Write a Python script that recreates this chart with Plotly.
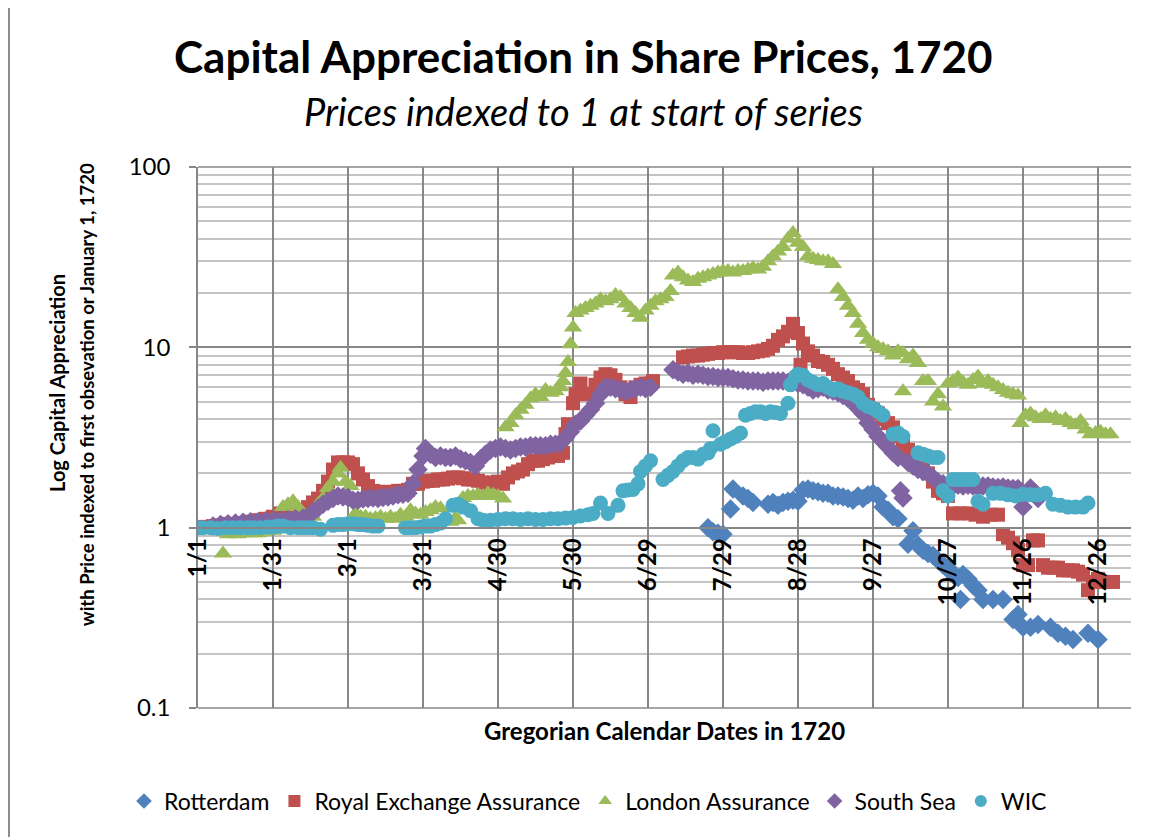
import pandas as pd
import plotly.graph_objects as go

# Dias desde el 1/1/1720 y valores indexados
rotterdam_dias = [204, 206, 208, 210, 213, 214, 218, 220, 222, 228, 230, 232, 234, 236, 238, 240,
                  242, 244, 246, 248, 250, 252, 254, 256, 258, 260, 262, 264, 266, 268, 270, 272,
                  274, 276, 278, 280, 284, 286, 288, 290, 292, 294, 296, 298, 300, 302, 304, 305,
                  306, 308, 310, 312, 314, 318, 322, 326, 328, 330, 333, 336, 341, 344, 347, 350,
                  356, 360]
rotterdam_val = [1.0, 0.95, 0.93, 0.92, 1.27, 1.64, 1.5, 1.45, 1.38, 1.35, 1.38, 1.33, 1.38, 1.4, 1.42, 1.4,
                 1.62, 1.64, 1.6, 1.58, 1.55, 1.55, 1.5, 1.5, 1.48, 1.45, 1.42, 1.5, 1.45, 1.52, 1.55, 1.5,
                 1.3, 1.25, 1.15, 1.12, 0.81, 0.96, 0.8, 0.75, 0.72, 0.7, 0.66, 0.62, 0.6, 0.55, 0.53, 0.4,
                 0.55, 0.52, 0.48, 0.45, 0.4, 0.4, 0.4, 0.31, 0.33, 0.28, 0.28, 0.29, 0.28, 0.26, 0.25, 0.24,
                 0.26, 0.24]

rea_dias = [0, 3, 6, 9, 12, 15, 18, 21, 24, 27, 30, 33, 36, 39, 42, 44, 46, 48, 50, 52, 54, 56, 58, 60,
            62, 64, 66, 68, 70, 72, 74, 76, 78, 80, 82, 84, 86, 88, 90, 92, 94, 96, 98, 100, 102, 104,
            106, 108, 110, 112, 114, 116, 118, 120, 122, 124, 126, 128, 130, 132, 134, 136, 138, 140,
            142, 144, 146, 147, 148, 150, 151, 153, 155, 157, 159, 161, 163, 165, 167, 169, 171, 173,
            175, 177, 179, 181, 182,
            194, 196, 198, 200, 202, 204, 206, 208, 210, 212, 214, 216, 218, 220, 222, 224, 226, 228,
            230, 232, 234, 236, 238, 240, 241, 242, 244, 246, 248, 250, 252, 254, 256, 258, 260, 262,
            264, 266, 268, 270, 272, 274, 276, 278, 280, 282, 284, 286, 288, 290, 292, 294, 296, 298,
            300, 302, 305, 308, 311, 314, 317, 320, 322, 324, 326, 328, 330, 332, 334, 336, 338, 340,
            342, 344, 346, 348, 350, 352, 354, 356, 358, 360, 362, 364, 366]
rea_val = [1.0, 1.01, 1.02, 1.03, 1.05, 1.05, 1.06, 1.08, 1.1, 1.12, 1.15, 1.2, 1.2, 1.18, 1.2, 1.3, 1.38,
           1.45, 1.6, 1.8, 2.1, 2.3, 2.3, 2.3, 2.25, 2.0, 1.85, 1.7, 1.6, 1.58, 1.58, 1.55, 1.58, 1.6, 1.6,
           1.62, 1.75, 1.75, 1.8, 1.82, 1.82, 1.85, 1.85, 1.87, 1.9, 1.9, 1.88, 1.85, 1.85, 1.82, 1.78,
           1.75, 1.78, 1.8, 1.75, 1.9, 2.0, 2.05, 2.1, 2.25, 2.35, 2.35, 2.4, 2.45, 2.5, 2.5, 2.6, 3.3,
           3.75, 4.9, 5.5, 6.3, 5.5, 5.5, 6.2, 6.8, 7.1, 7.0, 6.6, 6.0, 5.5, 5.3, 6.0, 6.2, 6.3, 6.3, 6.5,
           8.8, 8.9, 9.0, 9.0, 9.1, 9.2, 9.3, 9.3, 9.4, 9.4, 9.4, 9.4, 9.3, 9.3, 9.4, 9.5, 9.6, 9.8,
           10.2, 11.0, 11.5, 12.2, 13.5, 12.0, 8.0, 10.5, 9.5, 9.0, 8.4, 8.3, 8.0, 7.6, 7.1, 6.8, 6.5, 6.0,
           5.8, 5.5, 4.8, 4.5, 4.3, 4.0, 3.8, 3.6, 3.2, 2.9, 2.7, 2.5, 2.4, 2.2, 2.0, 1.8, 1.6, 1.55,
           1.5, 1.2, 1.2, 1.2, 1.18, 1.15, 1.18, 1.18, 0.92, 0.88, 0.82, 0.75, 0.62, 0.62, 0.85, 0.85, 0.62, 0.6,
           0.6, 0.6, 0.58, 0.58, 0.58, 0.57, 0.55, 0.45, 0.5, 0.52, 0.5, 0.5, 0.5]

london_dias = [10, 12, 14, 16, 18, 20, 22, 24, 26, 28, 30, 32, 34, 36, 38, 40, 42, 44, 46, 48, 50, 52,
               54, 56, 57, 59, 61, 63, 65, 67, 69, 71, 73, 75, 77, 79, 81, 83, 85, 87, 89, 91, 93, 95,
               97, 99, 101, 103, 104, 106, 108, 110, 112, 114, 116, 118, 120, 122, 123, 125, 127, 129,
               131, 133, 135, 137, 139, 141, 143, 145, 146, 147, 148, 149, 150, 151, 153, 155, 157, 159,
               161, 163, 165, 167, 169, 171, 173, 175, 177, 179, 181, 183, 185, 187, 189, 190, 192, 194,
               196, 198, 200, 202, 204, 206, 208, 210, 212, 214, 216, 218, 220, 222, 224, 226, 228, 230,
               232, 234, 236, 238, 240, 242, 244, 246, 248, 250, 252, 254, 256, 258, 260, 262, 264, 266,
               268, 270, 272, 274, 276, 278, 280, 282, 282, 284, 286, 288, 290, 292, 294, 296, 298, 300,
               302, 304, 306, 308, 310, 312, 314, 316, 318, 320, 322, 324, 326, 328, 329, 331, 333, 335,
               337, 339, 341, 343, 345, 347, 349, 351, 353, 355, 357, 359, 361, 363, 365]
london_val = [0.72, 0.92, 0.93, 0.92, 0.93, 0.94, 0.93, 0.93, 0.95, 0.96, 0.96, 0.98, 1.3, 1.35, 1.4, 1.3,
              1.2, 1.1, 1.15, 1.35, 1.45, 1.66, 1.8, 2.0, 2.15, 1.8, 1.7, 1.2, 1.15, 1.15, 1.12, 1.13,
              1.15, 1.12, 1.15, 1.12, 1.18, 1.15, 1.25, 1.2, 1.18, 1.22, 1.25, 1.3, 1.28, 1.1, 1.08, 1.13,
              1.1, 1.46, 1.5, 1.5, 1.52, 1.5, 1.55, 1.52, 1.5, 1.45, 3.6, 3.8, 4.2, 4.5, 4.8, 5.2, 5.5,
              5.3, 5.8, 5.6, 5.7, 6.0, 6.5, 7.2, 8.3, 10.4, 12.9, 15.5, 16.0, 16.5, 17.0, 17.5, 18.5,
              18.0, 18.5, 19.5, 19.0, 17.5, 16.5, 15.5, 14.6, 16.0, 17.0, 18.0, 18.5, 19.0, 20.5, 25.0,
              26.0, 24.5, 23.5, 23.0, 24.0, 24.5, 25.0, 25.5, 26.0, 26.5, 26.5, 26.0, 26.5, 26.5, 27.0,
              27.5, 27.0, 28.0, 30.0, 32.0, 34.0, 36.0, 40.0, 43.0, 38.0, 36.0, 32.0, 31.0, 30.5, 30.0,
              30.0, 29.0, 21.0, 19.0, 17.0, 15.5, 13.5, 12.0, 11.0, 10.5, 10.0, 9.8, 9.5, 9.0, 9.5, 9.3,
              5.7, 8.6, 9.0, 8.2, 6.5, 6.5, 5.0, 5.5, 4.7, 6.3, 6.5, 6.8, 6.4, 6.2, 6.6, 6.9, 6.3, 6.5,
              6.2, 6.0, 5.8, 5.6, 5.5, 5.4, 3.8, 4.2, 4.3, 4.1, 4.0, 4.2, 4.0, 4.1, 3.9, 4.0, 3.8, 3.7,
              3.9, 3.5, 3.3, 3.35, 3.4, 3.3, 3.3]

southsea_dias = [6, 9, 12, 15, 18, 21, 24, 27, 30, 33, 36, 39, 42, 44, 46, 48, 50, 52, 54, 56, 58, 60,
                 62, 64, 66, 68, 70, 72, 74, 76, 78, 80, 82, 84, 86, 88, 90, 91, 93, 95, 97, 99, 101,
                 103, 105, 107, 109, 111, 113, 115, 117, 119, 121, 123, 125, 127, 129, 131, 133, 135,
                 137, 139, 141, 143, 145, 147, 149, 151, 153, 155, 157, 159, 161, 163, 165, 167, 169,
                 171, 173, 175, 177, 179, 181,
                 190, 192, 194, 196, 198, 200, 202, 204, 206, 208, 210, 212, 214, 216, 218, 220, 222,
                 224, 226, 228, 230, 232, 234, 236, 238, 240, 242, 244, 246, 248, 250, 252, 254, 256,
                 258, 260, 262, 264, 266, 268, 270, 272, 274, 276, 278, 280, 281, 282, 284, 286, 288,
                 290, 292, 294, 296, 298, 300, 302, 304, 306, 308, 310, 312, 314, 316, 318, 320, 322,
                 324, 326, 328, 330, 333, 335, 336]
southsea_val = [1.02, 1.04, 1.05, 1.06, 1.07, 1.08, 1.08, 1.09, 1.1, 1.1, 1.11, 1.12, 1.13, 1.16, 1.22,
                1.28, 1.35, 1.4, 1.45, 1.5, 1.48, 1.47, 1.42, 1.42, 1.44, 1.45, 1.46, 1.45, 1.47, 1.48,
                1.5, 1.52, 1.53, 1.55, 1.75, 2.1, 2.5, 2.75, 2.55, 2.45, 2.5, 2.45, 2.45, 2.5, 2.4, 2.35,
                2.3, 2.2, 2.4, 2.55, 2.7, 2.75, 2.8, 2.75, 2.7, 2.75, 2.8, 2.8, 2.85, 2.85, 2.85, 2.85,
                2.9, 2.9, 2.95, 3.15, 3.4, 3.75, 3.9, 4.2, 4.5, 4.9, 5.5, 6.0, 6.0, 5.9, 5.8, 5.7, 5.8,
                5.9, 6.0, 5.9, 6.0,
                7.5, 7.3, 7.1, 7.2, 7.0, 7.1, 7.0, 6.9, 6.9, 6.8, 6.8, 6.8, 6.7, 6.6, 6.6, 6.5, 6.5,
                6.5, 6.4, 6.5, 6.5, 6.5, 6.5, 6.4, 6.4, 6.3, 6.2, 6.0, 5.8, 5.9, 6.0, 5.8, 5.7, 5.6,
                5.4, 5.2, 5.0, 4.6, 4.3, 3.8, 3.5, 3.2, 3.0, 2.8, 2.6, 2.45, 1.6, 1.46, 2.3, 2.2, 2.1,
                2.05, 2.0, 1.9, 1.8, 1.75, 1.72, 1.7, 1.72, 1.7, 1.72, 1.7, 1.68, 1.7, 1.7, 1.68, 1.67,
                1.68, 1.66, 1.65, 1.65, 1.3, 1.66, 1.55, 1.45]

wic_dias = [0, 2, 5, 8, 11, 14, 17, 20, 22, 25, 28, 30, 32, 34, 37, 40, 42, 44, 46, 49,
            54, 56, 58, 60, 62, 64, 66, 68, 70, 72,
            83, 85, 87, 89, 91, 93, 95, 97, 99, 102, 104, 106, 109, 112, 114, 117, 120, 123, 126,
            129, 132, 135, 138, 141, 144, 147, 150, 153, 156, 158, 161, 164, 168, 170, 172, 174,
            176, 177, 179, 181, 186, 188, 190, 192, 194, 196, 198, 200, 202, 204, 205, 206, 209,
            211, 213, 215, 217, 219, 221, 223, 225, 227, 229, 231, 233, 236, 237, 239, 240, 242,
            244, 246, 248, 250, 252, 254, 256, 258, 260, 262, 264, 266, 268, 270, 272, 274, 278,
            280, 282, 288, 290, 292, 294, 296, 298, 300, 302, 304, 306, 308, 310, 312, 314, 318,
            321, 324, 327, 330, 333, 336, 339, 342, 345, 348, 351, 354, 356]
wic_val = [1.0, 1.0, 1.0, 0.99, 1.0, 1.0, 1.0, 1.0, 1.0, 1.0, 1.01, 1.01, 1.02, 1.02, 1.0, 1.0, 1.0,
           1.0, 1.0, 0.98,
           1.03, 1.04, 1.04, 1.05, 1.05, 1.04, 1.04, 1.03, 1.02, 1.02,
           1.0, 1.0, 1.0, 1.01, 1.02, 1.02, 1.04, 1.06, 1.12, 1.33, 1.35, 1.3, 1.24, 1.12, 1.1, 1.1,
           1.11, 1.12, 1.12, 1.11, 1.12, 1.11, 1.11, 1.12, 1.12, 1.13, 1.14, 1.16, 1.18, 1.2, 1.37,
           1.2, 1.33, 1.6, 1.62, 1.63, 1.75, 2.05, 2.2, 2.35, 1.85, 1.95, 2.05, 2.2, 2.35, 2.45, 2.45,
           2.4, 2.55, 2.6, 2.75, 3.45, 2.9, 3.0, 3.1, 3.2, 3.35, 4.2, 4.3, 4.4, 4.4, 4.3, 4.4, 4.35,
           4.3, 4.9, 6.2, 6.9, 7.1, 7.0, 6.6, 6.4, 6.2, 6.3, 6.0, 5.8, 5.9, 5.7, 5.6, 5.5, 5.3, 4.9,
           4.7, 4.6, 4.4, 4.2, 3.3, 3.35, 3.2, 2.6, 2.55, 2.5, 2.45, 2.45, 1.6, 1.5, 1.85, 1.85, 1.85,
           1.85, 1.85, 1.4, 1.35, 1.55, 1.55, 1.52, 1.5, 1.53, 1.52, 1.52, 1.55, 1.35, 1.33, 1.3, 1.3,
           1.3, 1.37]

nombres = ["Rotterdam", "Royal Exchange Assurance", "London Assurance", "South Sea", "WIC"]
y_ticks = [0.1, 1, 10, 100]
y_labels = ["0.1", "1", "10", "100"]

inicio = pd.Timestamp("1720-01-01")


def a_fechas(dias):
    return [(inicio + pd.Timedelta(days=d)).strftime("%Y-%m-%d") for d in dias]


series = [
    (rotterdam_dias, rotterdam_val, "#4F81BD", "diamond", 15),
    (rea_dias, rea_val, "#C0504D", "square", 14),
    (london_dias, london_val, "#9BBB59", "triangle-up", 16),
    (southsea_dias, southsea_val, "#8064A2", "diamond", 15),
    (wic_dias, wic_val, "#4BACC6", "circle", 15),
]

FUENTE = "Lato"
GRIS = "#878787"

fig = go.Figure()
for nombre, (dias, vals, color, simbolo, tam) in zip(nombres, series):
    fig.add_trace(go.Scatter(
        x=a_fechas(dias), y=vals, name=nombre, mode="markers",
        marker=dict(symbol=simbolo, size=tam, color=color, line=dict(width=0)),
    ))

fin = (inicio + pd.Timedelta(hours=373.2 * 24)).strftime("%Y-%m-%d %H:%M")


def nota(texto, x, y, size, angulo=0):
    return dict(text=texto, xref="paper", yref="paper", x=x, y=y, xanchor="center", yanchor="middle",
                showarrow=False, textangle=angulo, font=dict(size=size, family=FUENTE, color="#000000"))


# la pagina tiene 8px de margen en el body: el grafico se corre para compensar
fig.update_layout(
    width=1146, height=829,
    margin=dict(l=190, r=23, t=159, b=129),
    paper_bgcolor="white", plot_bgcolor="white",
    font=dict(family=FUENTE, color="#000000"),
    showlegend=True,
    legend=dict(orientation="h", x=0.418, xanchor="center", y=-0.172, yanchor="middle",
                font=dict(size=23, family=FUENTE), itemsizing="constant"),
    xaxis=dict(
        type="date", range=["1720-01-01", fin],
        tick0="1720-01-01", dtick=30 * 86400000, tickformat="%-m/%-d",
        tickangle=-90, tickfont=dict(size=24, family=FUENTE, color="#000000", weight="bold"),
        showgrid=True, gridcolor=GRIS, gridwidth=1.5,
        anchor="free", position=1 / 3,
        showline=True, linecolor=GRIS, linewidth=2,
        ticks="", zeroline=False,
    ),
    yaxis=dict(
        type="log", range=[-1, 2],
        tickvals=y_ticks, ticktext=y_labels,
        tickfont=dict(size=24, family=FUENTE, color="#000000"),
        ticks="outside", ticklen=7, tickcolor=GRIS, tickwidth=1.5,
        ticklabelstandoff=14,
        showgrid=True, gridcolor=GRIS, gridwidth=1.5,
        minor=dict(dtick="D1", showgrid=True, gridcolor="#C4C4C4", gridwidth=1.5, ticks=""),
        showline=True, linecolor=GRIS, linewidth=1.5,
        zeroline=False,
    ),
    annotations=[
        nota("<b>Capital Appreciation in Share Prices, 1720</b>", 0.4137, 1.205, 44),
        nota("<i>Prices indexed to 1 at start of series</i>", 0.4137, 1.1035, 38),
        nota("<b>Gregorian Calendar Dates in 1720</b>", 0.5005, -0.0425, 24),
        nota("<b>Log Capital Appreciation</b>", -0.151, 0.601, 20, -90),
        nota("<b>with Price indexed to first obsevation or January 1, 1720</b>", -0.119, 0.580, 18.5, -90),
    ],
    shapes=[
        dict(type="rect", xref="paper", yref="paper", x0=-0.2026, y0=-0.28, x1=1.06, y1=1.2957,
             line=dict(color="#8C8C8C", width=2), fillcolor="rgba(0,0,0,0)", layer="below"),
        dict(type="line", xref="paper", yref="paper", x0=0, x1=1, y0=0, y1=0,
             line=dict(color=GRIS, width=1.5)),
        dict(type="line", xref="paper", yref="paper", x0=0, x1=1, y0=1, y1=1,
             line=dict(color=GRIS, width=1.5)),
    ],
)

fig.write_html("out.html")
